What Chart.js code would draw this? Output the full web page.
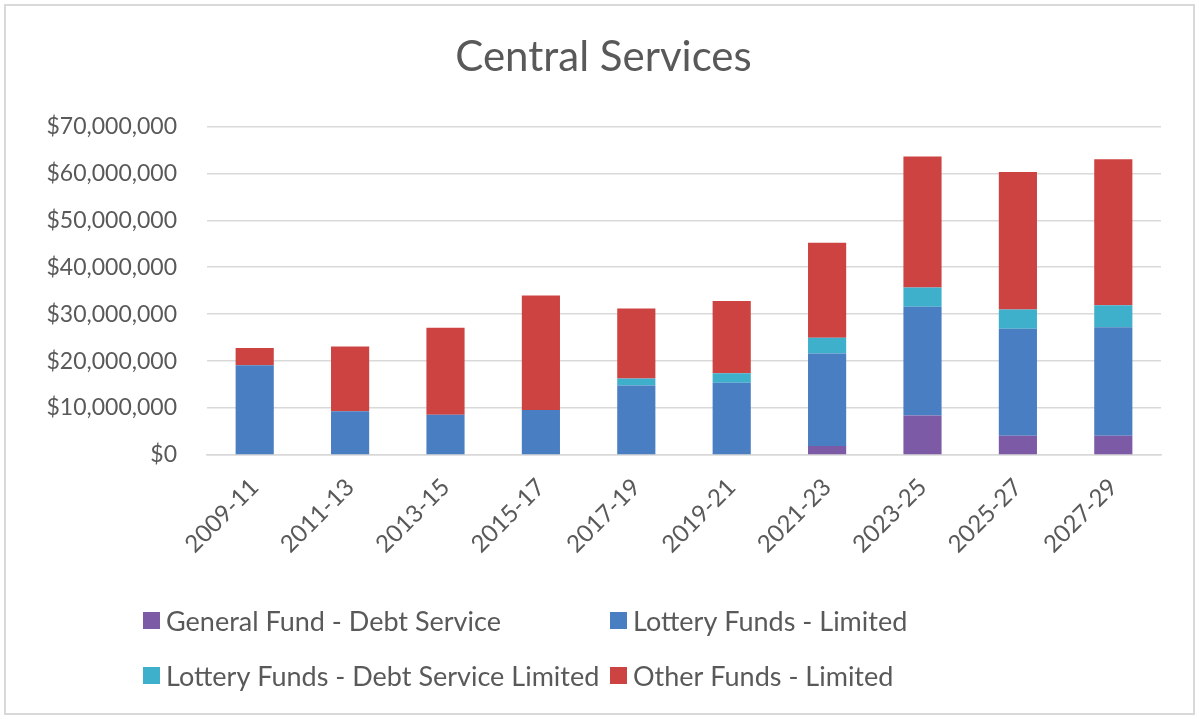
<!DOCTYPE html>
<html>
<head>
<meta charset="utf-8">
<title>Central Services</title>
<script src="https://cdn.jsdelivr.net/npm/chart.js@4.4.0/dist/chart.umd.min.js"></script>
<style>
    html, body { margin: 0; padding: 0; background: #fff; }
    #wrap { position: relative; width: 1199px; height: 719px; }
    #frame { position: absolute; left: 4px; top: 4px; width: 1191px; height: 711px; border: 2px solid #d9d9d9; box-sizing: border-box; }
    #chartCentral { position: absolute; left: 0; top: 0; }
</style>
</head>
<body>
<div id="wrap">
    <div id="frame"></div>
    <canvas id="chartCentral" width="1199" height="719"></canvas>
</div>
<script>
// Biennium labels
const periods = ['2009-11', '2011-13', '2013-15', '2015-17', '2017-19', '2019-21', '2021-23', '2023-25', '2025-27', '2027-29'];

// Amounts in dollars, stacked bottom to top
const generalFundDebt = [0, 0, 0, 0, 0, 0, 1900000, 8400000, 4100000, 4100000];
const lotteryLimited = [19100000, 9300000, 8600000, 9600000, 14800000, 15400000, 19700000, 23200000, 22800000, 23100000];
const lotteryDebtLimited = [0, 0, 0, 0, 1500000, 2000000, 3400000, 4100000, 4100000, 4700000];
const otherFundsLimited = [3700000, 13800000, 18500000, 24400000, 14900000, 15400000, 20200000, 27900000, 29300000, 31100000];

// Y axis ticks
const yTicks = [0, 10000000, 20000000, 30000000, 40000000, 50000000, 60000000, 70000000];

const textColor = '#595959';
const fontFamily = 'Lato, "Liberation Sans", sans-serif';

// Legend in two fixed columns, like the spreadsheet layout
const legendColumns = [143, 610];
const legendRows = [621, 676];

const legendPlugin = {
    id: 'twoColumnLegend',
    afterDraw: (chart) => {
        const ctx = chart.ctx;
        ctx.save();
        ctx.font = `27px ${fontFamily}`;
        ctx.textBaseline = 'middle';
        ctx.textAlign = 'left';
        chart.data.datasets.forEach((ds, i) => {
            const x = legendColumns[i % 2];
            const y = legendRows[Math.floor(i / 2)];
            ctx.fillStyle = ds.backgroundColor;
            ctx.fillRect(x, y - 9, 17, 17);
            ctx.fillStyle = textColor;
            ctx.fillText(ds.label, x + 23, y + 1);
        });
        ctx.restore();
    }
};

const makeDataset = (label, data, color) => ({
    label: label,
    data: data,
    backgroundColor: color,
    borderWidth: 0,
    barPercentage: 0.4,
    categoryPercentage: 1
});

const ctxCentral = document.getElementById('chartCentral').getContext('2d');
new Chart(ctxCentral, {
    type: 'bar',
    data: {
        labels: periods,
        datasets: [
            makeDataset('General Fund - Debt Service', generalFundDebt, '#7d5aa6'),
            makeDataset('Lottery Funds - Limited', lotteryLimited, '#4a7ec2'),
            makeDataset('Lottery Funds - Debt Service Limited', lotteryDebtLimited, '#3fb0cb'),
            makeDataset('Other Funds - Limited', otherFundsLimited, '#cc4341')
        ]
    },
    options: {
        responsive: false,
        animation: false,
        layout: {
            padding: { top: 8, right: 38, left: 46, bottom: 0 }
        },
        plugins: {
            legend: { display: false },
            tooltip: { enabled: false },
            title: {
                display: true,
                text: 'Central Services',
                color: textColor,
                font: { family: fontFamily, size: 42, weight: 'normal' },
                padding: { top: 24, bottom: 44 }
            }
        },
        scales: {
            x: {
                stacked: true,
                grid: { display: false },
                border: { color: '#d9d9d9', width: 1.5 },
                ticks: {
                    color: textColor,
                    font: { family: fontFamily, size: 24 },
                    minRotation: 45,
                    maxRotation: 45,
                    padding: 10
                },
                afterFit: (scale) => { scale.height = 264; }
            },
            y: {
                stacked: true,
                min: 0,
                max: 70000000,
                afterBuildTicks: (scale) => { scale.ticks = yTicks.map(v => ({ value: v })); },
                grid: { color: '#d9d9d9', lineWidth: 1.5, drawTicks: false },
                border: { display: false },
                ticks: {
                    color: textColor,
                    font: { family: fontFamily, size: 23 },
                    padding: 30,
                    callback: (v) => '$' + Number(v).toLocaleString('en-US')
                },
                afterFit: (scale) => { scale.width = 161; }
            }
        }
    },
    plugins: [legendPlugin]
});
</script>
</body>
</html>
